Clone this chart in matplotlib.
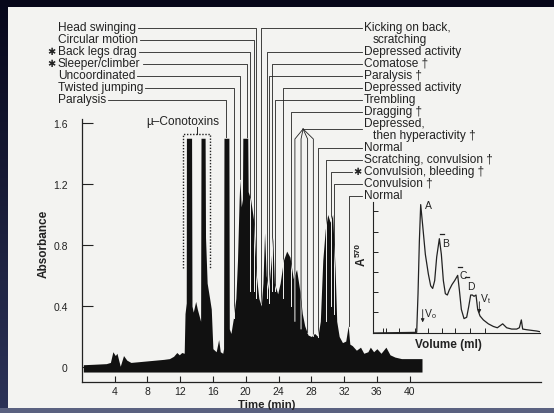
import matplotlib.pyplot as plt
import numpy as np
from matplotlib.patches import Rectangle

W, H = 554, 414
plt.rcParams['font.family'] = ['Liberation Sans', 'DejaVu Sans']

# ---- chromatogram: time (min) / absorbance ----
curve_t = [0.2, 1.5, 3.0, 3.5, 3.8, 4.1, 4.3, 4.7, 5.1, 5.5, 6.0, 7.0, 8.0, 9.0, 10.0,
           10.7, 11.2, 11.6, 11.9, 12.2, 12.5, 12.6, 12.75, 12.77, 13.4, 13.45, 13.6, 13.9,
           14.1, 14.4, 14.5, 14.55, 15.05, 15.1, 15.3, 15.6, 15.8, 16.0, 16.4, 16.7, 16.9,
           17.2, 17.3, 17.35, 17.95, 18.0, 18.2, 18.5, 18.8, 19.0, 19.2, 19.3, 19.45, 19.6,
           19.65, 20.25, 20.3, 20.6, 21.0, 21.3, 21.6, 21.9, 22.1, 22.3, 22.5, 22.8, 23.1,
           23.3, 23.5, 23.9, 24.2, 24.6, 25.0, 25.4, 25.8, 26.2, 26.6, 26.9, 27.2, 27.6,
           28.0, 28.4, 28.8, 29.1, 29.4, 29.7, 30.0, 30.3, 30.6, 30.9, 31.1, 31.4, 31.8,
           32.2, 32.5, 32.7, 33.0, 33.5, 34.0, 34.4, 34.9, 35.2, 35.6, 36.0, 36.5, 37.1,
           37.6, 38.2, 39.0, 40.0, 41.5]
curve_a = [0.015, 0.018, 0.022, 0.03, 0.10, 0.075, 0.09, 0.005, 0.075, 0.045, 0.03, 0.035,
           0.04, 0.045, 0.05, 0.055, 0.07, 0.095, 0.08, 0.095, 0.09, 0.35, 0.42, 1.5, 1.5,
           0.40, 0.36, 0.43, 0.38, 0.32, 0.30, 1.5, 1.5, 0.85, 0.55, 0.45, 0.38, 0.12, 0.10,
           0.18, 0.10, 0.09, 0.12, 1.5, 1.5, 0.25, 0.22, 0.32, 0.45, 0.7, 1.1, 1.23, 1.05,
           1.1, 1.5, 1.5, 1.15, 1.1, 0.95, 0.6, 0.45, 0.4, 0.55, 0.88, 0.6, 0.5, 0.7, 0.85,
           0.55, 0.48, 0.55, 0.7, 0.76, 0.72, 0.58, 0.64, 0.5, 0.35, 0.27, 0.21, 0.2, 0.22,
           0.2, 0.3, 0.7, 0.9, 1.0, 0.95, 1.0, 0.65, 0.3, 0.2, 0.16, 0.17, 0.27, 0.15, 0.14,
           0.11, 0.13, 0.09, 0.1, 0.13, 0.1, 0.12, 0.09, 0.13, 0.08, 0.065, 0.055, 0.055,
           0.055]

x_ticks = [4, 8, 12, 16, 20, 24, 28, 32, 36, 40]
y_ticks = [0, 0.4, 0.8, 1.2, 1.6]
y_tick_labels = ['0', '0.4', '0.8', '1.2', '1.6']

# left-hand observations: label, star, fraction time, line end absorbance
left_labels = ['Head swinging', 'Circular motion', 'Back legs drag', 'Sleeper/climber',
               'Uncoordinated', 'Twisted jumping', 'Paralysis']
left_star = [False, False, True, True, False, False, False]
left_line_t = [21.3, 21.0, 20.5, 20.1, 19.3, 18.6, 17.6]
left_end_a = [0.45, 0.5, 0.5, 1.5, 1.23, 0.32, 1.5]

# right-hand observations
right_labels = ['Kicking on back,', 'Depressed activity', 'Comatose \u2020', 'Paralysis \u2020',
                'Depressed activity', 'Trembling', 'Dragging \u2020', 'Normal',
                'Scratching, convulsion \u2020', 'Convulsion, bleeding \u2020',
                'Convulsion \u2020', 'Normal']
right_rows = [0, 2, 3, 4, 5, 6, 7, 10, 11, 12, 13, 14]
right_star = [False, False, False, False, False, False, False, False, False, True, False, False]
right_line_t = [21.9, 22.6, 23.2, 22.8, 24.5, 23.6, 25.5, 28.8, 29.8, 30.4, 30.8, 32.6]
right_end_a = [0.42, 0.45, 0.5, 0.42, 0.45, 0.5, 0.4, 0.2, 0.3, 0.4, 0.35, 0.27]
right_extra = ['scratching', 'then hyperactivity \u2020']
right_extra_rows = [1, 9]

depr_label = 'Depressed,'
depr_row = 8
depr_apex_t = 27.0
depr_branch_t = [26.0, 26.75, 27.55, 28.25]
depr_end_a = [0.3, 0.25, 0.22, 0.2]

cono_t = (12.4, 15.6)
cono_a = (0.65, 1.53)
cono_mark_t = 14.05

# ---- inset (gel filtration) ----
inset_v = [0, 26.4, 27.2, 28.0, 28.8, 30.0, 31.6, 33.4, 34.8, 36.0, 37.2, 38.4, 40.0, 41.2,
           42.4, 43.6, 44.8, 46.0, 47.6, 49.2, 51.0, 52.0, 53.2, 54.8, 56.4, 57.6, 58.8,
           59.8, 60.8, 62.0, 63.0, 64.4, 66.4, 69.4, 72.4, 74.8, 78.0, 80.4, 83.4, 86.4,
           88.0, 89.2, 90.0, 92.4, 95.4, 98.4, 100.4]
inset_a = [0.0, 0.005, 0.3, 0.7, 0.98, 0.82, 0.6, 0.45, 0.36, 0.34, 0.4, 0.58, 0.72, 0.6,
           0.4, 0.3, 0.29, 0.33, 0.37, 0.4, 0.44, 0.33, 0.18, 0.11, 0.12, 0.2, 0.29, 0.29,
           0.28, 0.29, 0.18, 0.13, 0.1, 0.07, 0.05, 0.04, 0.07, 0.04, 0.03, 0.03, 0.04, 0.1,
           0.03, 0.025, 0.02, 0.015, 0.01]
inset_yticks = [0.159, 0.313, 0.467, 0.62, 0.774, 0.928]
inset_xticks = [6.4, 8.0, 16.0, 25.4, 33.4, 41.4, 49.4, 58.4, 67.4]
peak_names = ['A', 'B', 'C', 'D']
peak_v = [33.4, 44.0, 54.4, 59.0]
peak_a = [0.98, 0.69, 0.44, 0.36]
peak_bar = [False, True, True, True]

# ---- layout (pixels) ----
T0_PX, PX_PER_MIN = 81.7, 8.2
A0_PX, PX_PER_A = 368.0, 152.5
ROW0_PX, ROW_STEP = 28.0, 12.0
INK = '#222222'
PAPER = '#f3f3f1'
FS = 8.6


def t_of(x):
    return (x - T0_PX) / PX_PER_MIN


def a_of(y):
    return (A0_PX - y) / PX_PER_A


def row_y(i):
    return ROW0_PX + ROW_STEP * i


def ftext(x, y, s, **kw):
    return fig.text(x / W, 1 - y / H, s, **kw)


fig = plt.figure(figsize=(W / 100, H / 100), dpi=100)

# slide background + paper
bg = fig.add_axes([0, 0, 1, 1])
grad = np.linspace(0, 1, 256)[:, None]
bg.imshow(grad, extent=[0, W, H, 0], aspect='auto',
          cmap=plt.matplotlib.colors.LinearSegmentedColormap.from_list('s', ['#07071a', '#2c3358']))
bg.add_patch(Rectangle((8, 8), W - 8, 401, facecolor=PAPER, edgecolor='none'))
bg.add_patch(Rectangle((0, 409), W, 5, facecolor='#5a6180', edgecolor='none'))
bg.set_xlim(0, W)
bg.set_ylim(H, 0)
bg.axis('off')

# main chromatogram axes
ax = fig.add_axes([T0_PX / W, (H - 383) / H, (541 - T0_PX) / W, (383 - 120) / H])
ax.set_facecolor('none')
ax.set_xlim(0, t_of(541))
ax.set_ylim(a_of(383), a_of(120))
for s in ['top', 'right']:
    ax.spines[s].set_visible(False)
for s in ['left', 'bottom']:
    ax.spines[s].set_color(INK)
    ax.spines[s].set_linewidth(0.9)
ax.set_xticks(x_ticks)
ax.set_yticks(y_ticks)
ax.set_yticklabels(y_tick_labels)
ax.tick_params(axis='x', direction='in', length=4, width=0.8, pad=3, labelsize=7.5, colors=INK)
ax.tick_params(axis='y', direction='in', length=8, width=0.8, pad=10, labelsize=7.5, colors=INK)

fill = ax.fill_between(curve_t, -0.033, curve_a, color='#111111', lw=0, zorder=2)
fill_path = fill.get_paths()[0]


def leader(ts, As):
    ax.plot(ts, As, color=INK, lw=0.6, clip_on=False, zorder=1.5)
    wl, = ax.plot(ts, As, color=PAPER, lw=0.7, zorder=3)
    wl.set_clip_path(fill_path, ax.transData)


renderer = fig.canvas.get_renderer()

# left labels
for i, lab in enumerate(left_labels):
    y = row_y(i)
    txt = ftext(58, y, lab, fontsize=FS, va='center', ha='left', color=INK)
    if left_star[i]:
        ftext(51, y, '\u2731', fontsize=7, va='center', ha='center', color=INK,
              family='DejaVu Sans')
    x1 = txt.get_window_extent(renderer).x1
    ly = a_of(y + 1)
    leader([t_of(x1 + 2), left_line_t[i], left_line_t[i]], [ly, ly, left_end_a[i]])

# right labels
for i, lab in enumerate(right_labels):
    y = row_y(right_rows[i])
    ftext(364, y, lab, fontsize=FS, va='center', ha='left', color=INK)
    x_end = 362
    if right_star[i]:
        ftext(357, y, '\u2731', fontsize=7, va='center', ha='center', color=INK,
              family='DejaVu Sans')
        x_end = 352
    ly = a_of(y + 1)
    leader([t_of(x_end), right_line_t[i], right_line_t[i]], [ly, ly, right_end_a[i]])

for lab, r in zip(right_extra, right_extra_rows):
    ftext(373, row_y(r), lab, fontsize=FS, va='center', ha='left', color=INK)

ftext(364, row_y(depr_row), depr_label, fontsize=FS, va='center', ha='left', color=INK)
apex_a = a_of(row_y(depr_row + 0.5))
leader([t_of(362), depr_apex_t], [apex_a, apex_a])
bend_a = apex_a - 10 / PX_PER_A
for bt, ea in zip(depr_branch_t, depr_end_a):
    leader([depr_apex_t, bt, bt], [apex_a, bend_a, ea])

# mu-conotoxin box
ax.plot([cono_t[0], cono_t[0], cono_t[1], cono_t[1]],
        [cono_a[0], cono_a[1], cono_a[1], cono_a[0]],
        ls=(0, (1, 1.2)), color=INK, lw=1.0, clip_on=False, zorder=4)
ax.plot([cono_mark_t, cono_mark_t], [cono_a[1], cono_a[1] + 0.045], color=INK, lw=0.7,
        clip_on=False)
ftext(183, 122, '\u00b5\u2013Conotoxins', fontsize=FS, ha='center', va='center', color=INK)

ftext(44, 244, 'Absorbance', fontsize=8.5, fontweight='bold', rotation=90,
      ha='center', va='center', color=INK)
ftext(267, 405, 'Time (min)', fontsize=8.2, fontweight='bold', ha='center', va='center',
      color=INK)

# inset
ins = fig.add_axes([372.7 / W, (H - 334) / H, (540 - 372.7) / W, (334 - 203) / H])
ins.set_facecolor('none')
ins.plot(inset_v, inset_a, color=INK, lw=0.9)
ins.set_xlim(0, 100.4)
ins.set_ylim(0, 1.0)
for s in ['top', 'right']:
    ins.spines[s].set_visible(False)
for s in ['left', 'bottom']:
    ins.spines[s].set_color(INK)
    ins.spines[s].set_linewidth(0.8)
ins.set_xticks(inset_xticks)
ins.set_yticks(inset_yticks)
ins.tick_params(direction='in', length=3.5, width=0.7, labelbottom=False, labelleft=False,
                colors=INK)
for name, v, a, bar in zip(peak_names, peak_v, peak_a, peak_bar):
    ins.text(v, a, name, fontsize=7.5, ha='center', va='center', color=INK)
    if bar:
        ins.plot([v - 3.4, v - 1.0], [a + 0.065, a + 0.065], color=INK, lw=0.9)
ins.annotate('', xy=(30.0, 0.06), xytext=(30.0, 0.2),
             arrowprops=dict(arrowstyle='-|>', color=INK, lw=0.6, mutation_scale=5))
ins.text(31.0, 0.15, r'V$_\mathregular{o}$', fontsize=7.5, ha='left', va='center', color=INK)
ins.annotate('', xy=(64.0, 0.13), xytext=(64.0, 0.26),
             arrowprops=dict(arrowstyle='-|>', color=INK, lw=0.6, mutation_scale=5))
ins.text(64.6, 0.27, r'V$_\mathregular{t}$', fontsize=7.5, ha='left', va='center', color=INK)

ftext(362, 262, 'A', fontsize=8.5, fontweight='bold', rotation=90, ha='center',
      va='center', color=INK)
ftext(358, 250, '570', fontsize=6, fontweight='bold', rotation=90, ha='center',
      va='center', color=INK)
ftext(448, 345, 'Volume (ml)', fontsize=8.5, fontweight='bold', ha='center', va='center',
      color=INK)

fig.savefig('out.png', dpi=100)
